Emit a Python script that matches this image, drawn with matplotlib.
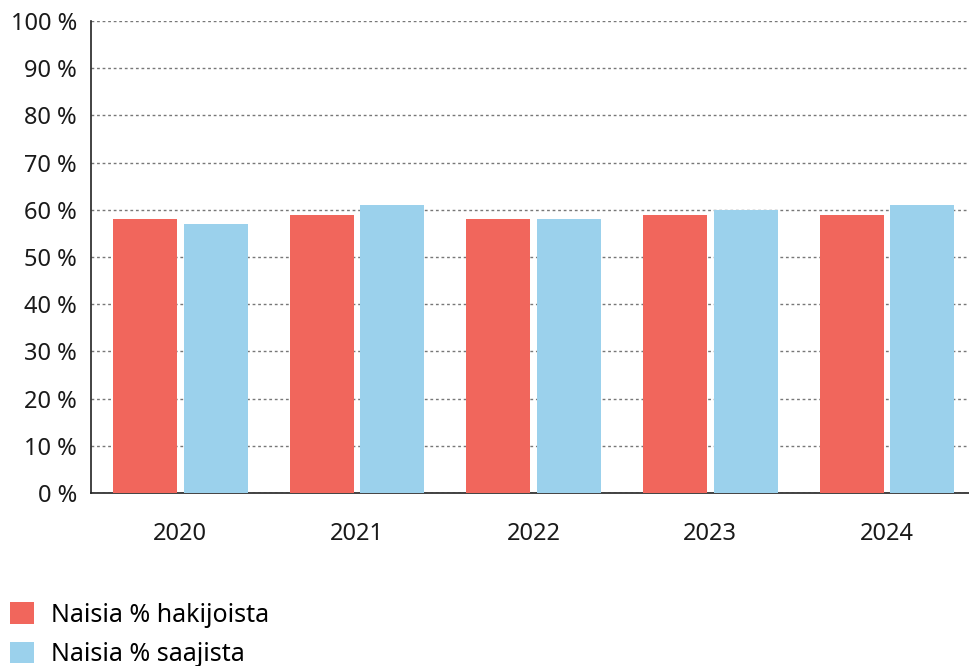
import matplotlib
matplotlib.use("Agg")
import matplotlib.pyplot as plt
import numpy as np
from matplotlib.patches import Patch

plt.rcParams['font.family'] = ['Noto Sans', 'DejaVu Sans']

# data
years = ['2020', '2021', '2022', '2023', '2024']
hakijoista = [58, 59, 58, 59, 59]
saajista = [57, 61, 58, 60, 61]
series_labels = ['Naisia % hakijoista', 'Naisia % saajista']
yticks = list(range(0, 101, 10))

RED = '#F1665C'
BLUE = '#9BD1EC'

fig = plt.figure(figsize=(9.7, 6.66), dpi=100)
ax = fig.add_axes([91 / 970, 173 / 666, 1 - 91 / 970, 472 / 666])

x = np.arange(len(years))
width = 0.362
ax.bar(x - 0.2, hakijoista, width, color=RED, zorder=3)
ax.bar(x + 0.2, saajista, width, color=BLUE, zorder=3)

ax.set_ylim(0, 100)
ax.set_xlim(-0.505, 4.47)
ax.set_yticks(yticks)
ax.set_yticklabels([f'{t} %' for t in yticks])
ax.set_xticks(x)
ax.set_xticklabels(years)
ax.tick_params(axis='both', length=0, labelsize=17, colors='#1a1a1a')
ax.tick_params(axis='x', pad=21)
ax.tick_params(axis='y', pad=10)

ax.yaxis.grid(True, linestyle=(0, (2, 2)), color='#777777', linewidth=1, zorder=0)
ax.set_axisbelow(True)
for side in ('top', 'right'):
    ax.spines[side].set_visible(False)
for side in ('left', 'bottom'):
    ax.spines[side].set_color('#222222')
    ax.spines[side].set_linewidth(1.2)

handles = [Patch(facecolor=RED, label=series_labels[0]),
           Patch(facecolor=BLUE, label=series_labels[1])]
fig.legend(handles=handles, loc='upper left', bbox_to_anchor=(0.005, 0.103),
           frameon=False, fontsize=18, handlelength=0.95, handleheight=0.95,
           handletextpad=0.7, labelspacing=0.55, borderaxespad=0, borderpad=0.2)

fig.savefig('out.png', dpi=100)
